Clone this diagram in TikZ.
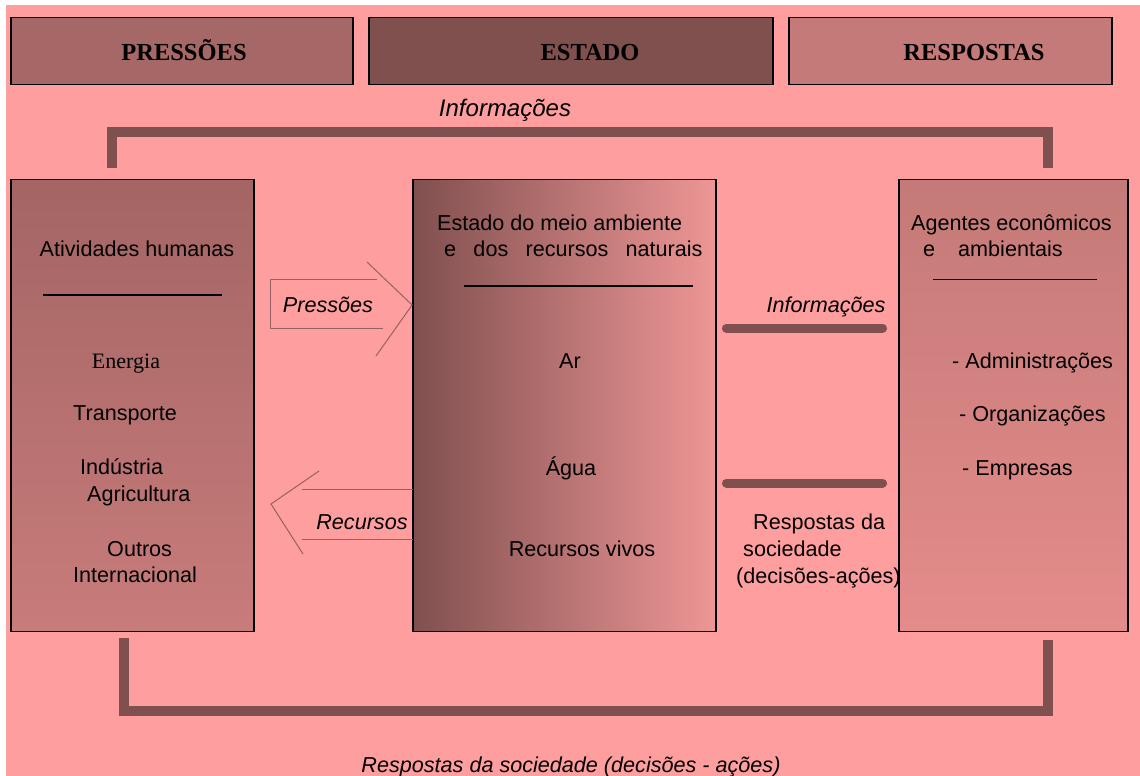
\documentclass[tikz,border=0pt]{standalone}
\usepackage{fontspec}
\setmainfont{Liberation Sans}
\newfontfamily\timesfont{Liberation Serif}
\usetikzlibrary{positioning}

\definecolor{fundo}{RGB}{255,158,158}
\definecolor{escuro}{RGB}{128,80,79}
\definecolor{medio}{RGB}{166,104,102}
\definecolor{claro}{RGB}{196,122,120}
\definecolor{ativtopo}{RGB}{163,101,100}
\definecolor{ativbase}{RGB}{200,124,123}
\definecolor{meiomeio}{RGB}{196,121,120}
\definecolor{meiodir}{RGB}{238,150,150}
\definecolor{agbase}{RGB}{228,140,139}
\definecolor{tracoseta}{RGB}{150,98,97}

\begin{document}
\begin{tikzpicture}[x=1pt,y=-1pt,
  every node/.style={inner sep=0pt, text height=19pt, text depth=4.5pt, font=\fontsize{21.6}{26}\selectfont},
  cabec/.style={draw=black, line width=1.5pt, minimum height=67, text height=, text depth=},
  cabectxt/.style={text height=17pt, text depth=0pt, font=\timesfont\bfseries\fontsize{24.5}{28}\selectfont},
  caixa/.style={draw=black, line width=1.8pt, minimum height=452, text height=, text depth=},
  barra/.style={line width=10pt, draw=escuro},
  seta/.style={line width=1pt, draw=tracoseta},
  rotulo/.style={font=\itshape\fontsize{21.6}{26}\selectfont}]
\useasboundingbox (0,0) rectangle (1140,776);
\fill[white] (0,0) rectangle (1140,776);
\fill[fundo] (6,5) rectangle (1140,776);

\node[cabec, fill=medio, minimum width=342] (pressoes) at (182,51) {};
\node[cabec, fill=escuro, minimum width=404] (estado) at (571,51) {};
\node[cabec, fill=claro, minimum width=323] (respostas) at (950.5,51) {};
\node[cabectxt] (pressoestxt) at (184,52) {PRESSÕES};
\node[cabectxt] (estadotxt) at (590,52) {ESTADO};
\node[cabectxt] (respostastxt) at (974,52) {RESPOSTAS};

\node[rotulo, font=\itshape\fontsize{24}{28}\selectfont] (infotopo) at (505,109) {Informações};

\node[caixa, minimum width=243, top color=ativtopo, bottom color=ativbase] (ativ) at (132.5,405.5) {};
\node[caixa, minimum width=303, left color=escuro, middle color=meiomeio, right color=meiodir] (meio) at (564.5,405.5) {};
\node[caixa, minimum width=229, top color=claro, bottom color=agbase] (agentes) at (1013.5,405.5) {};

\draw[barra, shorten <=11pt, shorten >=11pt] ([xshift=-21]ativ.north) -- ++(0,-47) -| ([xshift=34]agentes.north);
\draw[barra, shorten <=6pt, shorten >=8pt] ([xshift=-8.5]ativ.south) -- ++(0,79) -| ([xshift=34]agentes.south);

\node (ativtit) at (137,249) {Atividades humanas};
\draw[line width=1.3pt] (43,295) -- (222,295);
\node[font=\timesfont\fontsize{22}{26}\selectfont] (energia) at (126,361) {Energia};
\node (transp) at (125,413) {Transporte};
\node[anchor=west] (ind) at (80,467) {Indústria};
\node[anchor=west] (agri) at (87,494) {Agricultura};
\node[anchor=west] (outros) at (107,549) {Outros};
\node[anchor=west] (intl) at (73,575) {Internacional};

\node[anchor=west] (meiotit) at (437,223) {Estado do meio ambiente};
\node[anchor=west] (meiotit2) at (444,249) {e\hspace{0.8em}dos\hspace{0.8em}recursos\hspace{0.8em}naturais};
\draw[line width=1.3pt] (464,286) -- (693,286);
\node (ar) at (570,361) {Ar};
\node (agua) at (571,468) {Água};
\node (vivos) at (582,549) {Recursos vivos};

\node[anchor=west] (agtit) at (911,223) {Agentes econômicos};
\node[anchor=west] (agtit2) at (923,249) {e\hspace{23pt}ambientais};
\draw[line width=1pt] (933,279) -- (1097,279);
\node[anchor=west] (admin) at (952,361) {- Administrações};
\node[anchor=west] (org) at (959,414) {- Organizações};
\node[anchor=west] (emp) at (962,468) {- Empresas};

\coordinate (infoy) at (0,328);
\coordinate (respy) at (0,483);
\node[rotulo] (infomeio) at (826,305) {Informações};
\draw[barra, line width=9pt, line cap=round, shorten <=9.5pt, shorten >=15.5pt] (meio.east |- infoy) -- (agentes.west |- infoy);
\draw[barra, line width=9pt, line cap=round, shorten <=9.5pt, shorten >=15.5pt] (meio.east |- respy) -- (agentes.west |- respy);
\node[anchor=west] (resp1) at (753,522) {Respostas da};
\node[anchor=west] (resp2) at (743,549) {sociedade};
\node[anchor=west] (resp3) at (736,576) {(decisões-ações)};

\node[rotulo] (lblpress) at (328,305) {Pressões};
\draw[seta] (377,279) -- (270,279) -- (270,328) -- (383,328);
\draw[seta] (367,262) -- (meio.west |- lblpress) -- (376,356);

\node[rotulo] (lblrec) at (362,522) {Recursos};
\draw[seta] (302,489) -- (413,489);
\draw[seta] (302,539) -- (413,539);
\draw[seta] (319,471) -- (271,504) -- (303,554);

\node[rotulo] (rodape) at (571,765) {Respostas da sociedade (decisões - ações)};
\end{tikzpicture}
\end{document}
